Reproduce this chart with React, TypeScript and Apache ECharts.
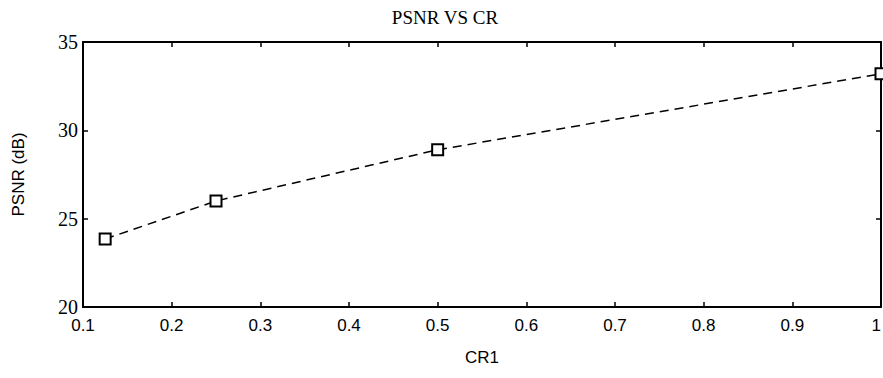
import React, { useEffect, useRef } from "react";
import * as echarts from "echarts";

const crValues = [0.125, 0.25, 0.5, 1.0];
const psnrValues = [23.85, 26.0, 28.9, 33.2];
const xTicks = [0.1, 0.2, 0.3, 0.4, 0.5, 0.6, 0.7, 0.8, 0.9, 1];
const yTicks = [20, 25, 30, 35];

const fmtX = (v: number) => Number(v.toFixed(1)).toString();

export default function App() {
  const ref = useRef<HTMLDivElement>(null);
  useEffect(() => {
    if (!ref.current) return;
    const chart = echarts.init(ref.current, undefined, { renderer: "svg" });
    const axisLine = { show: true, lineStyle: { color: "#000", width: 2 } };
    const tick = { show: true, inside: true, length: 5, lineStyle: { color: "#000", width: 1.5 } };
    chart.setOption({
      animation: false,
      backgroundColor: "#fff",
      title: {
        text: "PSNR VS CR",
        left: 440,
        top: 3,
        textAlign: "center",
        textStyle: { fontFamily: "Liberation Serif", fontSize: 19, fontWeight: "normal", color: "#000" },
      },
      grid: { left: 83, right: 2, top: 42, bottom: 71, containLabel: false, outerBoundsMode: "none" },
      xAxis: [
        {
          type: "value",
          min: xTicks[0],
          max: xTicks[xTicks.length - 1],
          interval: 0.1,
          name: "CR1",
          nameLocation: "middle",
          nameGap: 42,
          nameTextStyle: { fontFamily: "Liberation Sans", fontSize: 17, color: "#000" },
          axisLine,
          axisTick: tick,
          splitLine: { show: false },
          axisLabel: {
            formatter: (v: number) => fmtX(v),
            fontFamily: "Liberation Sans",
            fontSize: 17,
            color: "#000",
            margin: 10,
            alignMaxLabel: "right",
          },
        },
        {
          type: "value",
          position: "top",
          min: xTicks[0],
          max: xTicks[xTicks.length - 1],
          interval: 0.1,
          axisLine,
          axisTick: tick,
          axisLabel: { show: false },
          splitLine: { show: false },
        },
      ],
      yAxis: [
        {
          type: "value",
          min: yTicks[0],
          max: yTicks[yTicks.length - 1],
          interval: 5,
          name: "PSNR (dB)",
          nameLocation: "middle",
          nameGap: 56,
          nameTextStyle: { fontFamily: "Liberation Sans", fontSize: 17, color: "#000" },
          axisLine,
          axisTick: tick,
          splitLine: { show: false },
          axisLabel: { fontFamily: "Liberation Serif", fontSize: 20, color: "#000", margin: 5 },
        },
        {
          type: "value",
          position: "right",
          min: yTicks[0],
          max: yTicks[yTicks.length - 1],
          interval: 5,
          axisLine,
          axisTick: tick,
          axisLabel: { show: false },
          splitLine: { show: false },
        },
      ],
      series: [
        {
          type: "line",
          data: crValues.map((c, i) => [c, psnrValues[i]]),
          symbol: "rect",
          symbolSize: 11,
          itemStyle: { color: "#fff", borderColor: "#000", borderWidth: 2 },
          lineStyle: { color: "#000", width: 1.5, type: [9, 6] },
        },
      ],
    });
    return () => chart.dispose();
  }, []);
  return <div ref={ref} style={{ width: 883, height: 378, position: "absolute", left: 0, top: 0 }} />;
}
